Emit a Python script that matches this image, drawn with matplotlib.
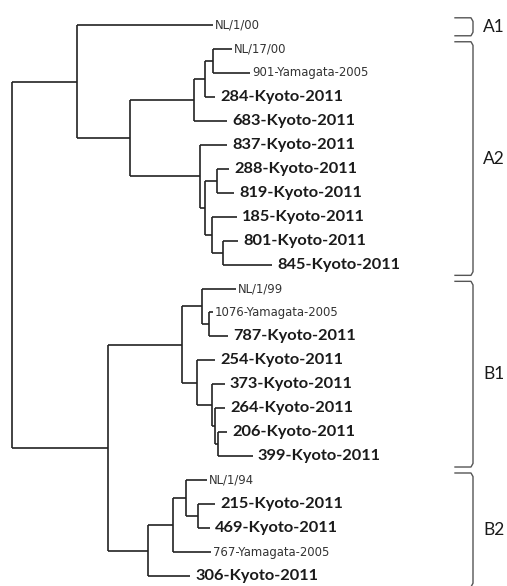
import matplotlib
matplotlib.use("Agg")
import matplotlib.pyplot as plt

# leaves, top to bottom, with distance from root
leaf_names = ["NL/1/00", "NL/17/00", "901-Yamagata-2005", "284-Kyoto-2011",
              "683-Kyoto-2011", "837-Kyoto-2011", "288-Kyoto-2011", "819-Kyoto-2011",
              "185-Kyoto-2011", "801-Kyoto-2011", "845-Kyoto-2011", "NL/1/99",
              "1076-Yamagata-2005", "787-Kyoto-2011", "254-Kyoto-2011", "373-Kyoto-2011",
              "264-Kyoto-2011", "206-Kyoto-2011", "399-Kyoto-2011", "NL/1/94",
              "215-Kyoto-2011", "469-Kyoto-2011", "767-Yamagata-2005", "306-Kyoto-2011"]
leaf_depth = [0.201, 0.220, 0.238, 0.203, 0.215, 0.215, 0.217, 0.222,
              0.225, 0.226, 0.260, 0.224, 0.201, 0.216, 0.203, 0.213,
              0.213, 0.215, 0.241, 0.195, 0.203, 0.198, 0.199, 0.178]

# internal nodes: name, distance from root, children (children listed first)
node_names = ["a2a11", "a2a1", "a2a", "n288", "n801", "n185", "a2b1", "a2b", "a2", "a",
              "n1076", "b1a", "n206", "n264", "n373", "b1b", "b1",
              "n215", "b2a1", "b2a", "b2", "b", "root"]
node_depth = [0.201, 0.193, 0.182, 0.205, 0.211, 0.200, 0.193, 0.188, 0.118, 0.065,
              0.197, 0.190, 0.206, 0.203, 0.200, 0.185, 0.170,
              0.186, 0.174, 0.161, 0.136, 0.096, 0.000]
node_children = [
    ["NL/17/00", "901-Yamagata-2005"],
    ["a2a11", "284-Kyoto-2011"],
    ["a2a1", "683-Kyoto-2011"],
    ["288-Kyoto-2011", "819-Kyoto-2011"],
    ["801-Kyoto-2011", "845-Kyoto-2011"],
    ["185-Kyoto-2011", "n801"],
    ["n288", "n185"],
    ["837-Kyoto-2011", "a2b1"],
    ["a2a", "a2b"],
    ["NL/1/00", "a2"],
    ["1076-Yamagata-2005", "787-Kyoto-2011"],
    ["NL/1/99", "n1076"],
    ["206-Kyoto-2011", "399-Kyoto-2011"],
    ["264-Kyoto-2011", "n206"],
    ["373-Kyoto-2011", "n264"],
    ["254-Kyoto-2011", "n373"],
    ["b1a", "b1b"],
    ["215-Kyoto-2011", "469-Kyoto-2011"],
    ["NL/1/94", "n215"],
    ["b2a1", "767-Yamagata-2005"],
    ["b2a", "306-Kyoto-2011"],
    ["b1", "b2"],
    ["a", "b"],
]

# clades: label, first leaf, last leaf
clade_labels = ["A1", "A2", "B1", "B2"]
clade_first = [0, 1, 11, 19]
clade_last = [0, 10, 18, 23]

line_col = "#222222"

fig = plt.figure(figsize=(5.07, 5.86), dpi=100)
ax = fig.add_axes([0, 0, 1, 1])
ax.set_xlim(-0.012, 0.495)
ax.set_ylim(23.417, -1.043)
ax.axis("off")

pos = {}
for i, (n, d) in enumerate(zip(leaf_names, leaf_depth)):
    pos[n] = (d, float(i))

for n, d, ch in zip(node_names, node_depth, node_children):
    ys = [pos[c][1] for c in ch]
    y = (min(ys) + max(ys)) / 2
    pos[n] = (d, y)
    ax.plot([d, d], [min(ys), max(ys)], color=line_col, lw=1.2, solid_capstyle="butt")
    for c in ch:
        cx, cy = pos[c]
        ax.plot([d, cx], [cy, cy], color=line_col, lw=1.2, solid_capstyle="butt")

for i, (n, d) in enumerate(zip(leaf_names, leaf_depth)):
    if "Kyoto" in n:
        ax.text(d + 0.005, i, n, fontsize=11.8, fontfamily="Lato", fontweight="bold",
                color="#1a1a1a", va="center", ha="left")
    else:
        ax.text(d + 0.002, i, n, fontsize=8.4, fontfamily="DejaVu Sans",
                color="#333333", va="center", ha="left")

# brackets and clade names
bx0, bx1 = 0.443, 0.461
for lab, f, l in zip(clade_labels, clade_first, clade_last):
    top = f - 0.3
    bot = l + 0.45
    ax.plot([bx0, bx1 - 0.002, bx1, bx1, bx1 - 0.002, bx0],
            [top, top, top + 0.15, bot - 0.15, bot, bot],
            color="#555555", lw=1.0)
    ax.text(0.471, (top + bot) / 2, lab, fontsize=12.5, fontfamily="Lato",
            color="#1a1a1a", va="center", ha="left")

fig.savefig("out.png", dpi=100, facecolor="white")
